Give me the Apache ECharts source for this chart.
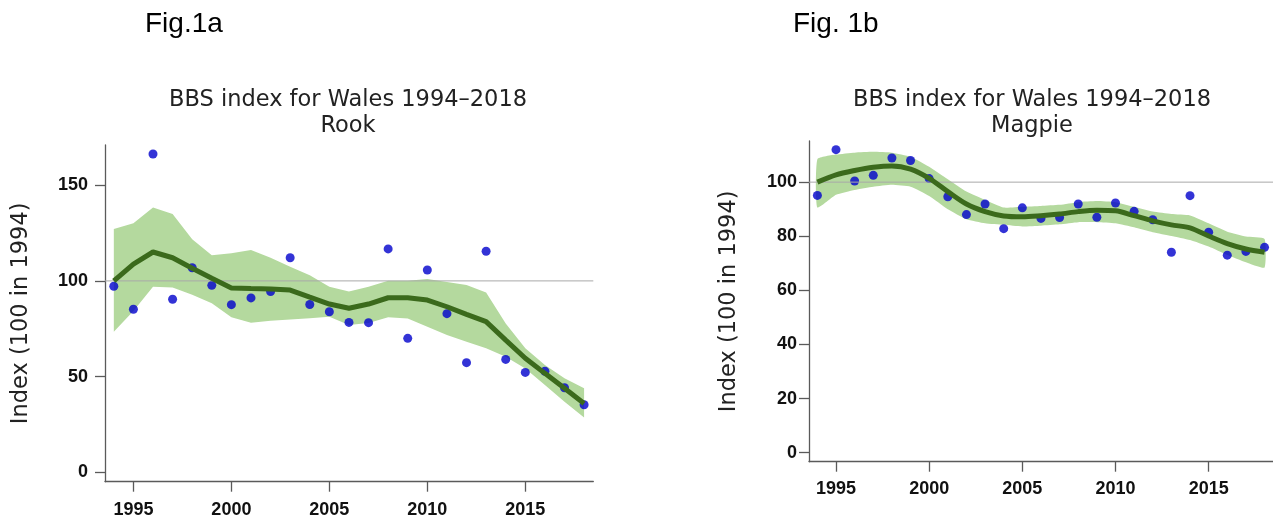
<!DOCTYPE html>
<html>
<head>
<meta charset="utf-8">
<script src="https://cdn.jsdelivr.net/npm/echarts@6/dist/echarts.min.js"></script>
<style>
html,body{margin:0;padding:0;background:#fff;}
#chart{width:1273px;height:518px;}
</style>
</head>
<body>
<div id="chart"></div>
<script>
const years = [1994,1995,1996,1997,1998,1999,2000,2001,2002,2003,2004,2005,2006,2007,2008,2009,2010,2011,2012,2013,2014,2015,2016,2017,2018];
const xTicks = [1995,2000,2005,2010,2015];

const rookIndex = [97.2,85.2,166.3,90.4,106.9,97.7,87.6,91.1,94.4,112.1,87.7,83.9,78.3,78.2,116.7,70.0,105.7,82.9,57.3,115.5,59.0,52.2,52.8,44.2,35.3];
const rookTrend = [100,108.8,115.1,112.1,106.6,101.4,96.3,96.0,95.8,95.2,91.5,87.9,85.7,87.9,91.2,91.2,90.0,86.5,82.5,78.7,69.1,59.6,51.7,43.9,36.0];
const rookUpper = [127.1,130.1,138.3,135.0,121.7,113.4,114.4,116.1,112.1,107.4,103.0,97.0,94.4,97.0,100.1,100.1,101.0,99.4,97.9,94.0,77.8,64.8,56.1,49.1,43.9];
const rookLower = [73.5,84.3,97.0,96.6,92.8,88.3,81.0,78.2,79.2,79.9,80.5,81.3,77.0,78.0,81.0,80.4,76.1,71.7,68.2,64.8,60.4,54.3,45.6,36.9,28.7];
const rookYTicks = [0,50,100,150];

const magpieIndex = [95.1,112.0,100.4,102.5,108.9,108.0,101.3,94.6,88.0,91.9,82.8,90.5,86.6,86.9,91.9,87.0,92.3,89.2,86.1,74.1,95.0,81.5,73.0,74.4,75.9];
const magpieTrend = [100,102.7,104.3,105.5,106.0,104.8,101.4,96.5,91.9,89.1,87.5,87.2,87.6,88.2,89.1,89.6,89.4,87.6,85.7,84.2,83.1,80.1,77.3,75.3,74.1];
const magpieUpper = [108.5,110.2,110.9,111.2,110.9,109.4,105.7,101.1,96.5,93.4,90.6,90.9,91.2,91.6,92.6,93.0,92.6,90.9,89.1,88.2,87.7,84.8,81.7,79.9,79.0];
const magpieLower = [90.6,95.3,97.1,98.3,99.0,98.3,94.9,90.0,86.3,84.8,84.2,83.6,83.9,84.4,85.2,85.2,84.8,83.3,81.5,80.1,78.6,76.2,73.1,70.4,68.4];
const magpieYTicks = [0,20,40,60,80,100];

const refValue = 100;
const xMin = 1993.55, xMax = 2018.47;

const BAND = '#b4d99e', LINE = '#3b6a1c', DOT = '#0000cc', AXIS = '#5a5a5a';

function bandSeries(idx, upper, lower, smooth) {
  return {
    type: 'custom', xAxisIndex: idx, yAxisIndex: idx,
    data: years.map((y, i) => [y, lower[i], upper[i]]),
    encode: {x: 0, y: [1, 2]},
    clip: true,
    renderItem: function (params, api) {
      if (params.dataIndex !== 0) return null;
      const pts = [];
      for (let i = 0; i < years.length; i++) pts.push(api.coord([years[i], upper[i]]));
      for (let i = years.length - 1; i >= 0; i--) pts.push(api.coord([years[i], lower[i]]));
      return {type: 'polygon', shape: {points: pts, smooth: smooth ? 0.15 : 0}, style: {fill: BAND, stroke: null}};
    },
    silent: true
  };
}

function refSeries(idx) {
  return {type: 'line', xAxisIndex: idx, yAxisIndex: idx, data: [[xMin, refValue], [xMax, refValue]],
    symbol: 'none', lineStyle: {color: '#a8a8a8', width: 1}, silent: true};
}
function trendSeries(idx, trend, smooth) {
  return {type: 'line', xAxisIndex: idx, yAxisIndex: idx, data: years.map((y, i) => [y, trend[i]]),
    symbol: 'none', smooth: smooth, lineStyle: {color: LINE, width: 5}, silent: true};
}
function dotSeries(idx, vals) {
  return {type: 'scatter', xAxisIndex: idx, yAxisIndex: idx, data: years.map((y, i) => [y, vals[i]]),
    symbolSize: 9, itemStyle: {color: DOT}, silent: true};
}

function xAxisCfg(idx, margin) {
  return {type: 'value', gridIndex: idx, min: xMin, max: xMax,
    axisLine: {show: true, onZero: false, lineStyle: {color: AXIS, width: 1.3}},
    axisTick: {show: true, length: 10, customValues: xTicks, lineStyle: {color: AXIS, width: 1.3}},
    axisLabel: {customValues: xTicks, margin: margin, formatter: v => String(v),
      fontFamily: 'Liberation Sans, Arial', fontWeight: 'bold', fontSize: 18, color: '#111'},
    splitLine: {show: false}};
}
function yAxisCfg(idx, min, max, ticks, margin, nameGap) {
  return {type: 'value', gridIndex: idx, min: min, max: max,
    name: 'Index (100 in 1994)', nameLocation: 'middle', nameGap: nameGap,
    nameTextStyle: {fontFamily: 'DejaVu Sans', fontSize: 22.5, color: '#222'},
    axisLine: {show: true, onZero: false, lineStyle: {color: AXIS, width: 1.3}},
    axisTick: {show: true, length: 10, customValues: ticks, lineStyle: {color: AXIS, width: 1.3}},
    axisLabel: {customValues: ticks, margin: margin, formatter: v => String(v),
      fontFamily: 'Liberation Sans, Arial', fontWeight: 'bold', fontSize: 18, color: '#111'},
    splitLine: {show: false}};
}

const chart = echarts.init(document.getElementById('chart'), null, {renderer: 'canvas'});
const titleFont = '22.5px "DejaVu Sans"';
const figFont = '28px "Liberation Sans", Arial';
chart.setOption({
  animation: false,
  backgroundColor: '#fff',
  grid: [
    {left: 105, top: 145, width: 488.3, height: 336.7, outerBoundsMode: 'none', containLabel: false},
    {left: 809, top: 141, width: 464.3, height: 320.7, outerBoundsMode: 'none', containLabel: false}
  ],
  xAxis: [xAxisCfg(0, 19), xAxisCfg(1, 18)],
  yAxis: [yAxisCfg(0, -4.9, 171, rookYTicks, 17, 72), yAxisCfg(1, -3.33, 115.2, magpieYTicks, 12, 68)],
  graphic: [
    {type: 'text', x: 145, y: 24, style: {text: 'Fig.1a', font: figFont, fill: '#000', textVerticalAlign: 'middle'}},
    {type: 'text', x: 793, y: 24, style: {text: 'Fig. 1b', font: figFont, fill: '#000', textVerticalAlign: 'middle'}},
    {type: 'text', x: 348, y: 100, style: {text: 'BBS index for Wales 1994\u20132018', font: titleFont, fill: '#222', textAlign: 'center', textVerticalAlign: 'middle'}},
    {type: 'text', x: 348, y: 126, style: {text: 'Rook', font: titleFont, fill: '#222', textAlign: 'center', textVerticalAlign: 'middle'}},
    {type: 'text', x: 1032, y: 100, style: {text: 'BBS index for Wales 1994\u20132018', font: titleFont, fill: '#222', textAlign: 'center', textVerticalAlign: 'middle'}},
    {type: 'text', x: 1032, y: 126, style: {text: 'Magpie', font: titleFont, fill: '#222', textAlign: 'center', textVerticalAlign: 'middle'}}
  ],
  series: [
    bandSeries(0, rookUpper, rookLower, false),
    refSeries(0),
    trendSeries(0, rookTrend, false),
    dotSeries(0, rookIndex),
    bandSeries(1, magpieUpper, magpieLower, true),
    refSeries(1),
    trendSeries(1, magpieTrend, 0.3),
    dotSeries(1, magpieIndex)
  ]
});
</script>
</body>
</html>
